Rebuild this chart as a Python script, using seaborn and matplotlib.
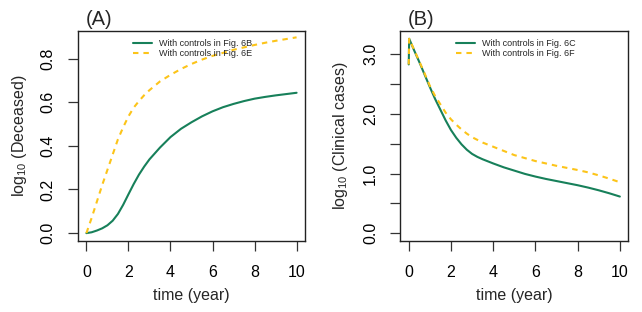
import matplotlib
matplotlib.use("Agg")
import matplotlib.pyplot as plt
import seaborn as sns
import pandas as pd

sns.set_style("white")
plt.rcParams['font.family'] = ['Liberation Sans', 'DejaVu Sans']
plt.rcParams['mathtext.fontset'] = 'custom'
plt.rcParams['mathtext.rm'] = 'Liberation Sans'
plt.rcParams['mathtext.it'] = 'Liberation Sans'
plt.rcParams['mathtext.default'] = 'regular'

# Panel A data (log10 deceased)
tA = [0, 0.25, 0.5, 0.75, 1, 1.25, 1.5, 1.75, 2, 2.25, 2.5, 2.75, 3, 3.5, 4, 4.5,
      5, 5.5, 6, 6.5, 7, 7.5, 8, 8.5, 9, 9.5, 10]
deceased_6B = [0.0, 0.004, 0.012, 0.022, 0.036, 0.057, 0.088, 0.13, 0.178, 0.225, 0.268, 0.305,
               0.338, 0.392, 0.44, 0.478, 0.508, 0.535, 0.558, 0.577, 0.592, 0.605, 0.616,
               0.624, 0.631, 0.637, 0.643]
deceased_6E = [0.0, 0.07, 0.145, 0.22, 0.29, 0.36, 0.43, 0.485, 0.535, 0.575, 0.605, 0.632,
               0.655, 0.695, 0.725, 0.752, 0.775, 0.795, 0.812, 0.826, 0.84, 0.851, 0.862,
               0.872, 0.881, 0.889, 0.897]

# Panel B data (log10 clinical cases)
tB = [0, 0.02, 0.25, 0.5, 0.75, 1, 1.25, 1.5, 1.75, 2, 2.25, 2.5, 2.75, 3, 3.25, 3.5, 3.75, 4,
      4.5, 5, 5.5, 6, 6.5, 7, 7.5, 8, 8.5, 9, 9.5, 10]
clinical_6C = [2.83, 3.26, 3.07, 2.87, 2.66, 2.45, 2.25, 2.07, 1.89, 1.73, 1.60, 1.49, 1.40,
               1.33, 1.28, 1.24, 1.205, 1.17, 1.105, 1.05, 0.995, 0.95, 0.91, 0.875, 0.84,
               0.805, 0.765, 0.72, 0.67, 0.615]
clinical_6F = [2.83, 3.26, 3.08, 2.88, 2.68, 2.47, 2.30, 2.16, 2.02, 1.91, 1.82, 1.74, 1.67,
               1.61, 1.565, 1.52, 1.485, 1.45, 1.38, 1.31, 1.26, 1.21, 1.17, 1.13, 1.095,
               1.06, 1.02, 0.97, 0.915, 0.855]

labels_A = ["With controls in Fig. 6B", "With controls in Fig. 6E"]
labels_B = ["With controls in Fig. 6C", "With controls in Fig. 6F"]
xticks = [0, 2, 4, 6, 8, 10]
yticks_A = [0.0, 0.2, 0.4, 0.6, 0.8]
yticklabels_A = ["0.0", "0.2", "0.4", "0.6", "0.8"]
yticks_B = [0.0, 0.5, 1.0, 1.5, 2.0, 2.5, 3.0]
yticklabels_B = ["0.0", "", "1.0", "", "2.0", "", "3.0"]

GREEN = '#17805a'
YELLOW = '#fcc419'
LW = 1.5
DASH = (0, (2.6, 2.4))

fig = plt.figure(figsize=(6.42, 3.12), dpi=100)
axA = fig.add_axes([78/642, 1-241/312, 227/642, 210/312])
axB = fig.add_axes([400.3/642, 1-241/312, 228/642, 210/312])

dfA = pd.DataFrame({'t': tA, 'g': deceased_6B, 'y': deceased_6E})
dfB = pd.DataFrame({'t': tB, 'g': clinical_6C, 'y': clinical_6F})

sns.lineplot(data=dfA, x='t', y='g', ax=axA, color=GREEN, lw=LW, label=labels_A[0])
sns.lineplot(data=dfA, x='t', y='y', ax=axA, color=YELLOW, lw=LW, linestyle=DASH, label=labels_A[1])
sns.lineplot(data=dfB, x='t', y='g', ax=axB, color=GREEN, lw=LW, label=labels_B[0], sort=False)
sns.lineplot(data=dfB, x='t', y='y', ax=axB, color=YELLOW, lw=LW, linestyle=DASH, label=labels_B[1], sort=False)

def style(ax, yticks, yticklabels, ylim, ylabel, lab_x):
    ax.set_xlim(-0.4, 10.4)
    ax.set_ylim(*ylim)
    ax.set_xticks(xticks)
    ax.set_xticklabels([str(v) for v in xticks], fontsize=11.5)
    ax.set_yticks(yticks)
    ax.set_yticklabels(yticklabels, fontsize=11.5, rotation=90, va='center')
    ax.tick_params(axis='both', direction='out', length=7.5, width=0.9, color='#333333', labelcolor='black')
    ax.tick_params(axis='x', pad=9.5)
    ax.tick_params(axis='y', pad=8.5)
    ax.tick_params(bottom=True, left=True)
    for s in ax.spines.values():
        s.set_visible(True)
        s.set_color('#222222')
        s.set_linewidth(1.0)
    ax.set_xlabel('time (year)', fontsize=11.5)
    ax.set_ylabel(ylabel, fontsize=11.5)
    ax.xaxis.set_label_coords(0.5, -0.225)
    ax.yaxis.set_label_coords(lab_x, 0.5)
    ax.grid(False)
    ax.legend(loc='upper center', bbox_to_anchor=(0.505, 1.0), frameon=False, fontsize=6.5,
              handlelength=2.1, handletextpad=0.78, labelspacing=0.1, borderaxespad=0.5)

style(axA, yticks_A, yticklabels_A, (-0.036, 0.926), r'log$_{10}$ (Deceased)', -0.2145)
style(axB, yticks_B, yticklabels_B, (-0.13, 3.39), r'log$_{10}$ (Clinical cases)', -0.2206)

fig.text(86/642, 1-25/312, '(A)', fontsize=14.5, ha='left', va='baseline')
fig.text(408/642, 1-25/312, '(B)', fontsize=14.5, ha='left', va='baseline')

fig.savefig('out.png', dpi=100)
